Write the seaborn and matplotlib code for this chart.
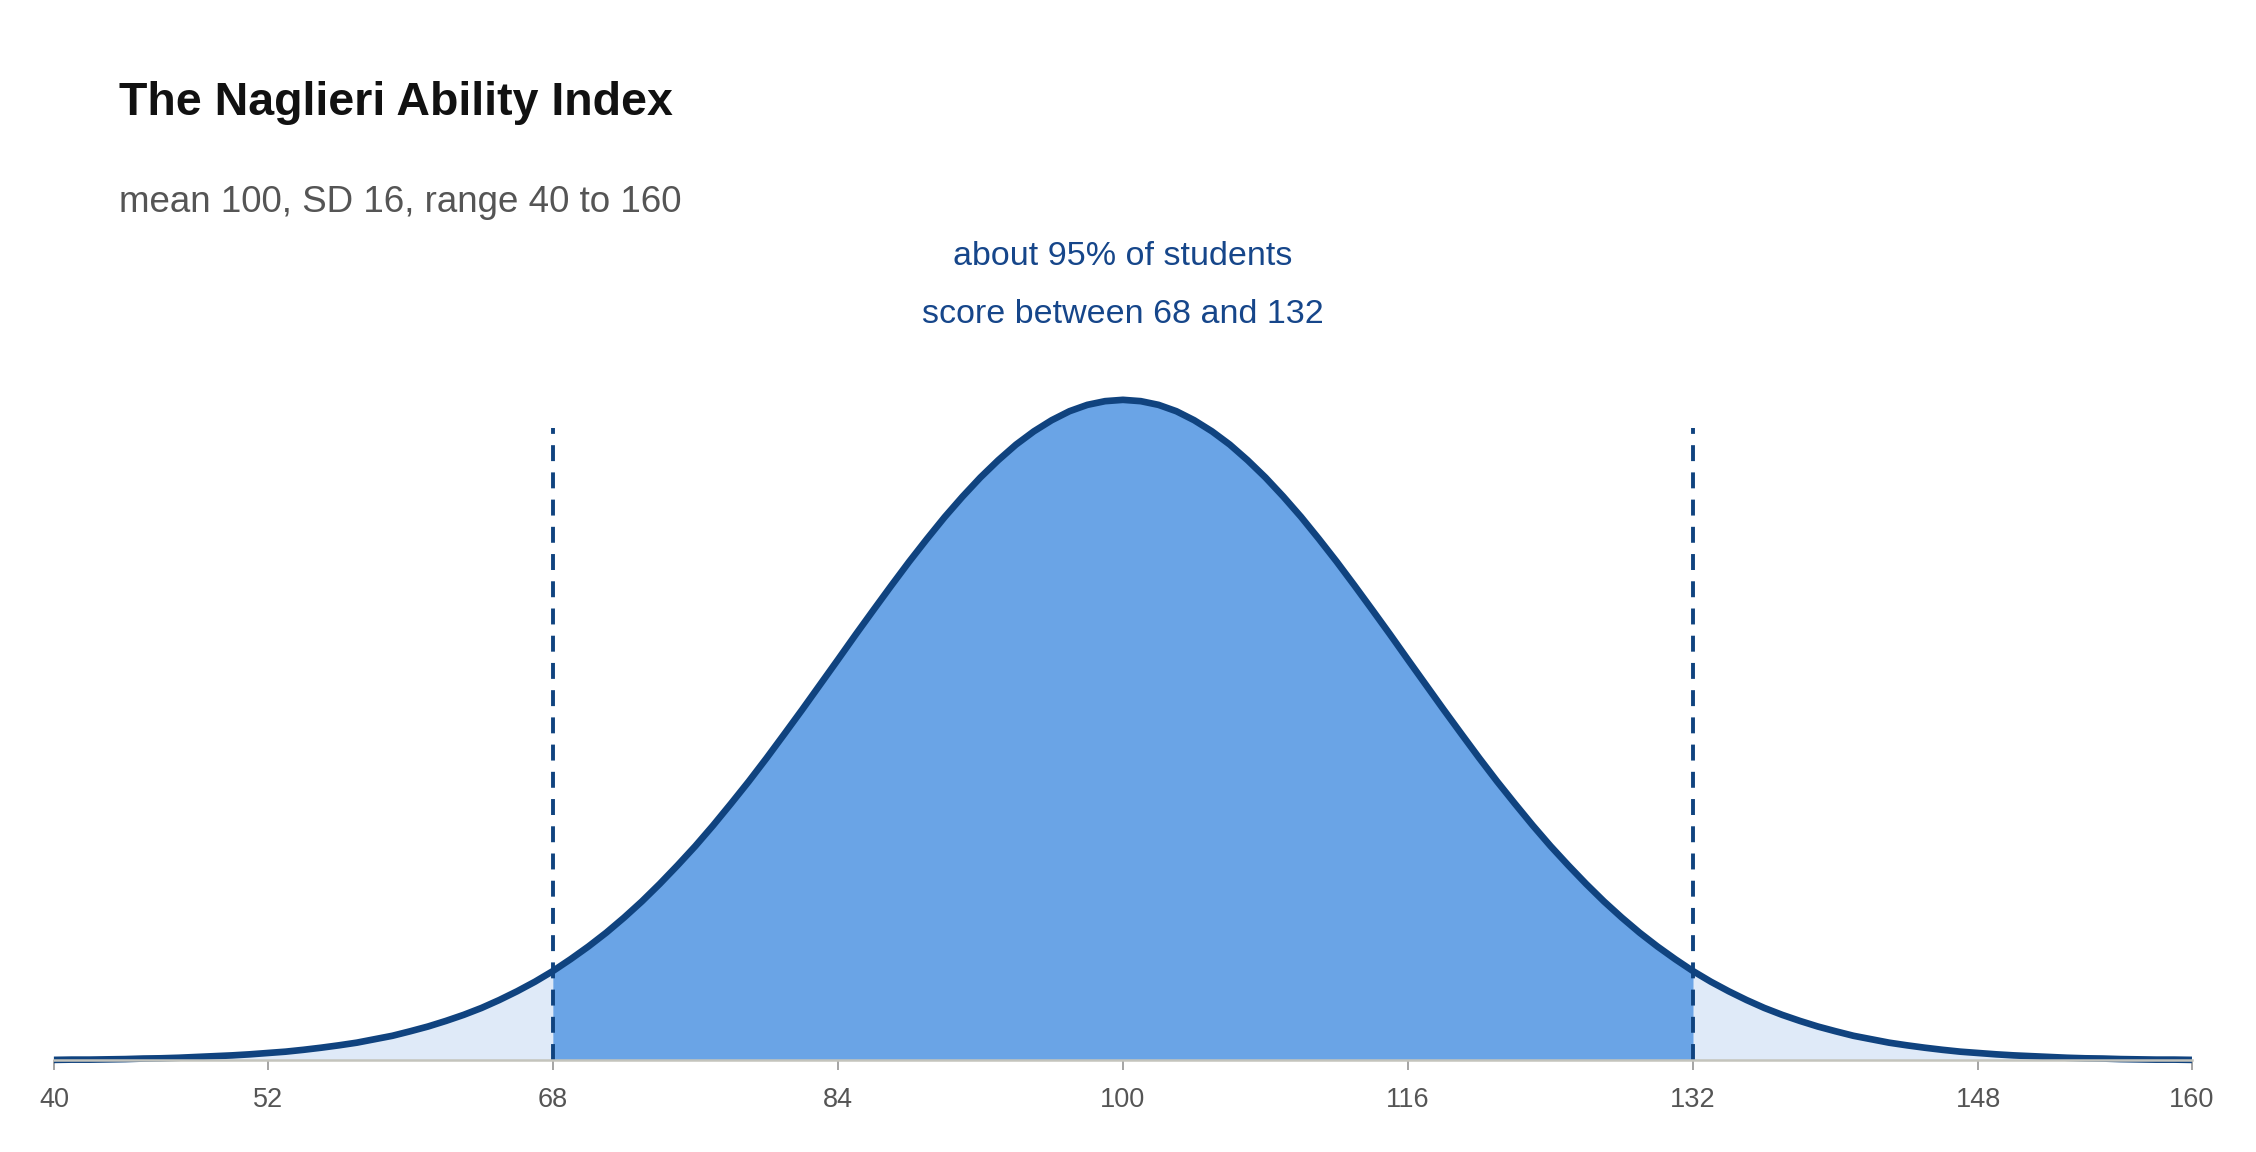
import numpy as np
import pandas as pd
import matplotlib
matplotlib.use("Agg")
import matplotlib.pyplot as plt
import matplotlib.transforms as mtransforms
import seaborn as sns

# Scores on the x axis (every point) and curve height (per mille)
scores = list(range(40, 161))
density_left = [0.02, 0.03, 0.03, 0.04, 0.05, 0.07, 0.08, 0.10, 0.13, 0.16,
                0.19, 0.23, 0.28, 0.33, 0.40, 0.48, 0.57, 0.67, 0.80, 0.93,
                1.10, 1.28, 1.49, 1.72, 1.98, 2.28, 2.61, 2.97, 3.37, 3.82,
                4.30, 4.82, 5.39, 6.00, 6.66, 7.36, 8.09, 8.87, 9.69, 10.53,
                11.41, 12.32, 13.24, 14.18, 15.12, 16.07, 17.00, 17.92, 18.82, 19.68,
                20.51, 21.28, 22.00, 22.65, 23.24, 23.74, 24.16, 24.50, 24.74, 24.88]
density_peak = [24.93]
density_right = [24.88, 24.74, 24.50, 24.16, 23.74, 23.24, 22.65, 22.00, 21.28, 20.51,
                 19.68, 18.82, 17.92, 17.00, 16.07, 15.12, 14.18, 13.24, 12.32, 11.41,
                 10.53, 9.69, 8.87, 8.09, 7.36, 6.66, 6.00, 5.39, 4.82, 4.30,
                 3.82, 3.37, 2.97, 2.61, 2.28, 1.98, 1.72, 1.49, 1.28, 1.10,
                 0.93, 0.80, 0.67, 0.57, 0.48, 0.40, 0.33, 0.28, 0.23, 0.19,
                 0.16, 0.13, 0.10, 0.08, 0.07, 0.05, 0.04, 0.03, 0.03, 0.02]
band_edges = [68, 132]
tick_values = [40, 52, 68, 84, 100, 116, 132, 148, 160]

title = "The Naglieri Ability Index"
subtitle = "mean 100, SD 16, range 40 to 160"
note_lines = ["about 95% of students", "score between 68 and 132"]

LINE = "#10437f"
MID_FILL = "#6aa4e6"
TAIL_FILL = "#dfeaf8"

df = pd.DataFrame({"score": scores,
                   "density": density_left + density_peak + density_right})

sns.set_style("white")
plt.rcParams["font.family"] = ["Liberation Sans", "DejaVu Sans"]

fig = plt.figure(figsize=(22.56, 11.52), dpi=100)
ax = fig.add_axes([0.0239, 0.0795, 0.9477, 0.6205])

lo, hi = band_edges
x = df["score"].to_numpy()
y = df["density"].to_numpy()
ax.fill_between(x, 0, y, where=(x <= lo), color=TAIL_FILL, linewidth=0, zorder=1)
ax.fill_between(x, 0, y, where=(x >= hi), color=TAIL_FILL, linewidth=0, zorder=1)
ax.fill_between(x, 0, y, where=(x >= lo) & (x <= hi), color=MID_FILL, linewidth=0, zorder=2)

peak = df["density"].max()
ax.vlines(band_edges, 0, peak * 0.958, colors=LINE, linewidth=2.8,
          linestyles=[(0, (4.1, 2.9))], zorder=3)

sns.lineplot(data=df, x="score", y="density", ax=ax, color=LINE,
             linewidth=4.8, zorder=4, clip_on=False)
for ln in ax.lines:
    ln.set_solid_capstyle("butt")
    ln.set_solid_joinstyle("round")

ax.set_xlim(40, 160)
ax.set_ylim(0, peak * 1.0821)
ax.set_xticks(tick_values)
ax.set_xticklabels([str(t) for t in tick_values])
ax.set_yticks([])
ax.set_xlabel("")
ax.set_ylabel("")
for side in ["top", "left", "right"]:
    ax.spines[side].set_visible(False)
ax.spines["bottom"].set_color("#c4c4bc")
ax.spines["bottom"].set_linewidth(1.8)
ax.spines["bottom"].set_zorder(5)
ax.tick_params(axis="x", bottom=True, length=7, width=1.1, color="#8c8c8c",
               pad=12, labelsize=19.5, labelcolor="#555555")

fig.text(0.0527, 0.900, title, fontsize=33.5, fontweight="bold", color="#111111", va="baseline")
fig.text(0.0527, 0.816, subtitle, fontsize=26.5, color="#555555", va="baseline")

trans = mtransforms.blended_transform_factory(ax.transData, fig.transFigure)
for line_text, yy in zip(note_lines, [0.770, 0.720]):
    ax.text(100, yy, line_text, transform=trans, ha="center", va="baseline",
            fontsize=24.5, color="#16468a")

fig.savefig("out.png", dpi=100)
